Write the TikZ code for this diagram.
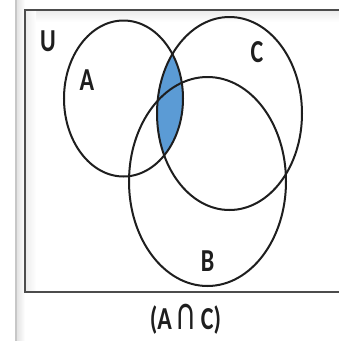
\documentclass[tikz,border=0pt]{standalone}
\usepackage{fontspec}
\usepackage{graphicx}
\setmainfont{Carlito}
\definecolor{lensblue}{RGB}{91,155,213}
\definecolor{inkgray}{RGB}{30,30,30}
\newcommand{\bigcapsym}{\scalebox{1.25}[1.5]{∩}}
\newcommand{\narrowtxt}[1]{\scalebox{0.75}[1]{#1}}
\begin{document}
\begin{tikzpicture}[x=1pt,y=-1pt,
  setline/.style={draw=inkgray, line width=2pt},
  lbl/.style={font=\fontsize{32}{32}\selectfont\bfseries, text=inkgray, inner sep=0pt}]
\useasboundingbox (0,0) rectangle (339,341);
\fill[white] (0,0) rectangle (339,341);
% shadow at the left
\shade[left color=black!12, right color=white] (16,0) rectangle (25,341);
\draw[black!22, line width=1.5pt] (16,0) -- (16,341);
\shade[top color=black!8, bottom color=white] (25,10) rectangle (339,22);
\shade[left color=black!8, right color=white] (25,10) rectangle (36,292);
% frame
\draw[draw=black!70, line width=2pt] (339,10) -- (25,10) -- (25,292) -- (339,292);
% shaded lens A and C
\begin{scope}
  \clip (123.5,98.5) ellipse [x radius=59.5, y radius=78];
  \fill[lensblue] (229.5,113.5) ellipse [x radius=72.5, y radius=96.5];
\end{scope}
% sets
\draw[setline] (123.5,98.5) ellipse [x radius=59.5, y radius=78];
\draw[setline] (229.5,113.5) ellipse [x radius=72.5, y radius=96.5];
\draw[setline] (207.5,181.5) ellipse [x radius=78.5, y radius=104.5];
% labels
\node[lbl] (u) at (48,41) {\narrowtxt{U}};
\node[lbl] (a) at (87,80) {\narrowtxt{A}};
\node[lbl] (c) at (257,52) {\narrowtxt{C}};
\node[lbl] (b) at (207.5,261) {\narrowtxt{B}};
\node[lbl] (cap) at (185.5,319) {\narrowtxt{(A\,\bigcapsym\,C)}};
\end{tikzpicture}
\end{document}
